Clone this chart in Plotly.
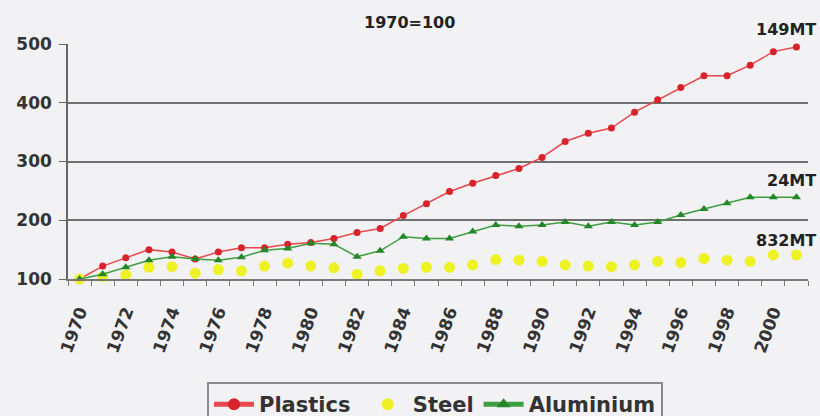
import plotly.graph_objects as go

years = list(range(1970, 2002))
plastics = [100, 122, 136, 150, 146, 134, 146, 153, 153, 159, 162, 169, 179, 186, 208,
            228, 249, 263, 276, 288, 307, 334, 348, 357, 384, 405, 426, 446, 446, 464, 487, 495]
steel = [100, 104, 107, 120, 121, 110, 116, 114, 122, 127, 122, 119, 108, 114, 118,
         120, 120, 124, 133, 132, 130, 124, 122, 121, 124, 130, 128, 135, 132, 130, 141, 141]
aluminium = [100, 108, 120, 132, 138, 134, 132, 137, 149, 152, 161, 159, 138, 148, 172,
             169, 169, 181, 192, 190, 192, 197, 190, 197, 192, 197, 209, 219, 229, 239, 239, 239]
tick_years = list(range(1970, 2001, 2))
tick_labels = [str(y) for y in tick_years]
y_ticks = [100, 200, 300, 400, 500]

BG = "#f2f1f3"
FONT = "DejaVu Sans"
TXT = "#333333"
NB = "\u00a0"

fig = go.Figure()
fig.add_trace(go.Scatter(x=years, y=plastics, name="Plastics" + NB, mode="lines+markers",
                         line=dict(color="#e8474d", width=1.5),
                         marker=dict(symbol="circle", size=7, color="#d8232b"),
                         cliponaxis=False))
fig.add_trace(go.Scatter(x=years, y=steel, name="Steel", mode="markers",
                         marker=dict(symbol="circle", size=11, color="#eef225"),
                         cliponaxis=False))
fig.add_trace(go.Scatter(x=years, y=aluminium, name="Aluminium", mode="lines+markers",
                         line=dict(color="#3f9e3f", width=1.5),
                         marker=dict(symbol="triangle-up", size=8, color="#23872a"),
                         cliponaxis=False))

fig.update_layout(
    width=820, height=416,
    margin=dict(l=68, r=12, t=44, b=137, autoexpand=False),
    paper_bgcolor=BG, plot_bgcolor=BG,
    font=dict(family=FONT, color=TXT),
    showlegend=True,
    legend=dict(orientation="h", xref="container", x=207 / 820, xanchor="left",
                yref="container", y=1 - 382 / 416, yanchor="top",
                bgcolor=BG, bordercolor="#8a8a8a", borderwidth=2,
                font=dict(family=FONT, size=21, color=TXT, weight="bold"),
                itemwidth=40, itemsizing="constant"),
    xaxis=dict(range=[1969.5, 2001.5], tickmode="array", tickvals=tick_years,
               ticktext=tick_labels, tickangle=-70, ticks="", showgrid=False,
               zeroline=False, showline=True, linecolor="#777777", linewidth=2,
               ticklabelstandoff=14,
               tickfont=dict(family=FONT, size=17, color=TXT, weight="bold"),
               minor=dict(tick0=1969.5, dtick=1, ticks="outside", ticklen=5,
                          tickcolor="#777777", tickwidth=1, showgrid=False)),
    yaxis=dict(range=[100, 500], tickmode="array", tickvals=y_ticks,
               showgrid=True, gridcolor="#6f6f6f", gridwidth=2, zeroline=False,
               showline=True, linecolor="#666666", linewidth=1.5,
               ticks="outside", ticklen=7, tickcolor="#666666", ticklabelstandoff=4,
               tickfont=dict(family=FONT, size=17, color=TXT, weight="bold")),
)

ann_font = dict(family=FONT, size=16, color="#222222", weight="bold")
fig.add_annotation(text="1970=100", xref="paper", yref="paper", x=0.461, y=1.09,
                   xanchor="center", yanchor="middle", showarrow=False, font=ann_font)
for txt, py in [("149MT", 30), ("24MT", 180), ("832MT", 240)]:
    fig.add_annotation(text=txt, xref="paper", x=1.0135, xanchor="right", yref="paper",
                       y=(279 - py) / 235, yanchor="middle", showarrow=False, font=ann_font)

fig.write_html("out.html")
